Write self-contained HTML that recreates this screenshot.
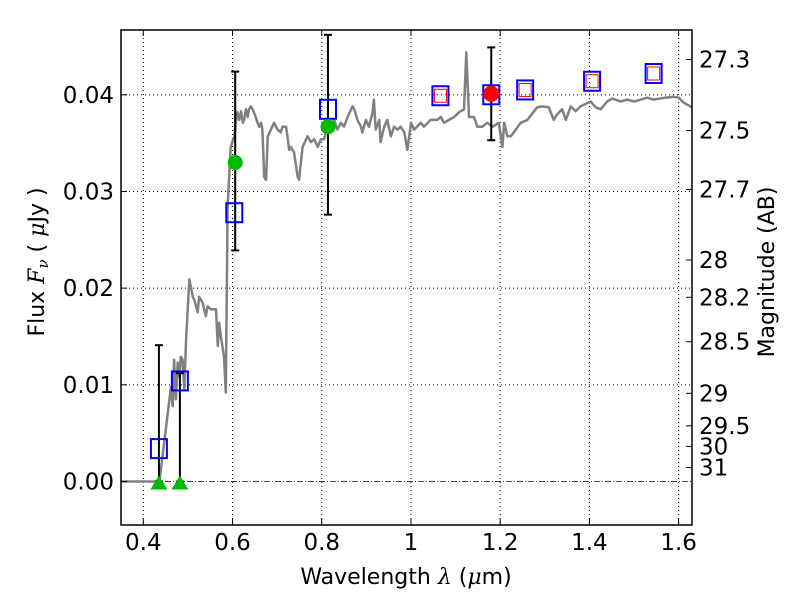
<!DOCTYPE html>
<html><head><meta charset="utf-8"><style>
body{margin:0;background:#fff;}
svg text{font-family:"DejaVu Sans","Liberation Sans",sans-serif;}
</style></head><body>
<svg id="chart" width="800" height="600" xmlns="http://www.w3.org/2000/svg"></svg>
<script>
const specWl=[0.352,0.436,0.455,0.462,0.466,0.469,0.473,0.477,0.481,0.484,0.488,0.492,0.496,0.503,0.511,0.514,0.522,0.525,0.533,0.540,0.544,0.552,0.563,0.567,0.570,0.574,0.581,0.585,0.589,0.596,0.604,0.608,0.611,0.615,0.619,0.623,0.626,0.630,0.634,0.637,0.641,0.645,0.652,0.656,0.660,0.664,0.667,0.671,0.675,0.679,0.686,0.693,0.701,0.708,0.712,0.720,0.723,0.727,0.731,0.738,0.746,0.749,0.757,0.768,0.776,0.783,0.791,0.798,0.805,0.813,0.820,0.828,0.835,0.843,0.850,0.858,0.869,0.873,0.880,0.888,0.891,0.899,0.906,0.914,0.917,0.921,0.929,0.932,0.940,0.947,0.955,0.962,0.970,0.977,0.985,0.992,1.000,1.007,1.022,1.029,1.044,1.059,1.067,1.074,1.085,1.097,1.108,1.119,1.124,1.130,1.141,1.149,1.160,1.171,1.183,1.197,1.205,1.209,1.216,1.224,1.235,1.246,1.261,1.276,1.283,1.294,1.309,1.320,1.328,1.339,1.347,1.358,1.369,1.380,1.403,1.414,1.425,1.440,1.451,1.470,1.485,1.500,1.515,1.530,1.544,1.570,1.589,1.600,1.611,1.630];
const specFlux=[0,0,0.0071,0.0098,0.0078,0.0126,0.0085,0.0123,0.0109,0.0129,0.0126,0.0095,0.0147,0.0209,0.0191,0.0188,0.0175,0.0191,0.0185,0.0171,0.0181,0.0178,0.0178,0.0140,0.0164,0.0150,0.0129,0.0092,0.0284,0.0346,0.0357,0.0374,0.0382,0.0374,0.0383,0.0371,0.0374,0.0385,0.0377,0.0385,0.0388,0.0385,0.0377,0.0371,0.0367,0.0371,0.0364,0.0315,0.0312,0.0357,0.0364,0.0371,0.0364,0.0361,0.0367,0.0367,0.0357,0.0343,0.0346,0.0340,0.0315,0.0312,0.0346,0.0357,0.0351,0.0354,0.0346,0.0354,0.0354,0.0367,0.0361,0.0374,0.0364,0.0371,0.0367,0.0377,0.0388,0.0385,0.0374,0.0367,0.0361,0.0374,0.0367,0.0382,0.0395,0.0364,0.0374,0.0351,0.0367,0.0374,0.0357,0.0367,0.0364,0.0367,0.0361,0.0343,0.0371,0.0364,0.0371,0.0367,0.0374,0.0374,0.0377,0.0371,0.0374,0.0377,0.0382,0.0385,0.0444,0.0377,0.0377,0.0367,0.0367,0.0371,0.0367,0.0371,0.0346,0.0371,0.0357,0.0357,0.0364,0.0371,0.0374,0.0383,0.0387,0.0388,0.0387,0.0374,0.0380,0.0385,0.0374,0.0388,0.0383,0.0388,0.0393,0.0387,0.0385,0.0393,0.0396,0.0393,0.0395,0.0393,0.0395,0.0397,0.0395,0.0397,0.0398,0.0397,0.0392,0.0387];
const modelWl=[0.435,0.482,0.604,0.814,1.066,1.180,1.256,1.406,1.544];
const modelFlux=[0.0034,0.0104,0.0278,0.0385,0.0399,0.0400,0.0405,0.0414,0.0422];
const redBoxWl=[1.066,1.256,1.406,1.544];
const redBoxFlux=[0.0399,0.0405,0.0414,0.0422];
const detWl=[0.606,0.814];
const detFlux=[0.0330,0.0367];
const redDetWl=[1.18];
const redDetFlux=[0.0401];
const errWl=[0.435,0.482,0.606,0.814,1.18];
const errLo=[0,0,0.0239,0.0276,0.0353];
const errHi=[0.0141,0.0112,0.0424,0.0462,0.0449];
const limWl=[0.435,0.482];
const limFlux=[0,0];
const xTicks=[0.4,0.6,0.8,1.0,1.2,1.4,1.6];
const xTickLabels=["0.4","0.6","0.8","1","1.2","1.4","1.6"];
const yTicks=[0,0.01,0.02,0.03,0.04];
const yTickLabels=["0.00","0.01","0.02","0.03","0.04"];
const magTicks=[27.3,27.5,27.7,28,28.2,28.5,29,29.5,30,31];
const magTickLabels=["27.3","27.5","27.7","28","28.2","28.5","29","29.5","30","31"];

const L=121,R=692,T=30,B=525;
const xMin=0.35,xMax=1.63,yMin=-0.0045,yMax=0.0467;
const X=v=>L+(v-xMin)/(xMax-xMin)*(R-L);
const Y=v=>B-(v-yMin)/(yMax-yMin)*(B-T);
const svg=document.getElementById('chart');
const NS='http://www.w3.org/2000/svg';
function mk(tag,attrs,parent){const e=document.createElementNS(NS,tag);for(const k in attrs)e.setAttribute(k,attrs[k]);(parent||svg).appendChild(e);return e;}

xTicks.forEach((t,i)=>{
  const g=mk('line',{x1:X(t),x2:X(t),y1:T,y2:B,stroke:'#000','stroke-width':1,'stroke-dasharray':'1,3'});
  
  
});
yTicks.forEach((t,i)=>{
  if(t===0)return;
  const g=mk('line',{x1:L,x2:R,y1:Y(t),y2:Y(t),stroke:'#000','stroke-width':1,'stroke-dasharray':'1,3'});
  
  
});
const zl=mk('line',{x1:L,x2:R,y1:Y(0),y2:Y(0),stroke:'#000','stroke-width':0.8,'stroke-dasharray':'6,2,1,2'});



let d='';
specWl.forEach((w,i)=>{d+=(i?'L':'M')+X(w).toFixed(1)+','+Y(specFlux[i]).toFixed(1);});
const sp=mk('path',{d:d,fill:'none',stroke:'#808080','stroke-width':2.5,'stroke-linejoin':'round'});



errWl.forEach((w,i)=>{
  const g=mk('g',{stroke:'#000','stroke-width':2});
  
  
  const x=X(w);
  mk('line',{x1:x,x2:x,y1:Y(errLo[i]),y2:Y(errHi[i])},g);
  mk('line',{x1:x-4,x2:x+4,y1:Y(errLo[i]),y2:Y(errLo[i])},g);
  mk('line',{x1:x-4,x2:x+4,y1:Y(errHi[i]),y2:Y(errHi[i])},g);
});

modelWl.forEach((w,i)=>{
  const r=mk('rect',{x:X(w)-8,y:Y(modelFlux[i])-9.5,width:16,height:19,fill:'none',stroke:'#0000ff','stroke-width':2});
  
  
});
redBoxWl.forEach((w,i)=>{
  const r=mk('rect',{x:X(w)-6,y:Y(redBoxFlux[i])-6.5,width:12,height:13,fill:'none',stroke:'#ff0000','stroke-width':1});
  
  
});
detWl.forEach((w,i)=>{
  const c=mk('circle',{cx:X(w),cy:Y(detFlux[i]),r:7.5,fill:'#00bb00'});
  
  
});
redDetWl.forEach((w,i)=>{
  const c=mk('circle',{cx:X(w),cy:Y(redDetFlux[i]),r:8,fill:'#ff0000'});
  
  
});
limWl.forEach((w,i)=>{
  const x=X(w),y=Y(limFlux[i]);
  const p=mk('polygon',{points:`${x},${y-6} ${x-8.5},${y+8} ${x+8.5},${y+8}`,fill:'#00bb00'});
  
  
});

const fr=mk('rect',{x:L,y:T,width:R-L,height:B-T,fill:'none',stroke:'#000','stroke-width':1.5});



xTicks.forEach((t,i)=>{
  const x=X(t);
  mk('line',{x1:x,x2:x,y1:B,y2:B-6,stroke:'#000','stroke-width':1});
  mk('line',{x1:x,x2:x,y1:T,y2:T+6,stroke:'#000','stroke-width':1});
  const tx=mk('text',{x:x,y:B+25,'font-size':23,'text-anchor':'middle'});
  tx.textContent=xTickLabels[i];
  
  
});
yTicks.forEach((t,i)=>{
  const y=Y(t);
  mk('line',{x1:L,x2:L+6,y1:y,y2:y,stroke:'#000','stroke-width':1});
  const tx=mk('text',{x:L-7,y:y+8,'font-size':23,'text-anchor':'end'});
  tx.textContent=yTickLabels[i];
  
  
});
magTicks.forEach((m,i)=>{
  const f=Math.pow(10,(23.9-m)/2.5);
  const y=Y(f);
  mk('line',{x1:R-6,x2:R,y1:y,y2:y,stroke:'#000','stroke-width':1});
  const tx=mk('text',{x:R+7,y:y+8,'font-size':23,'text-anchor':'start'});
  tx.textContent=magTickLabels[i];
  
  
});

const xt=mk('text',{x:406,y:584,'font-size':22,'text-anchor':'middle'});


xt.innerHTML='Wavelength  <tspan font-style="italic" font-family="DejaVu Serif,serif">λ</tspan> (<tspan font-style="italic" font-family="DejaVu Serif,serif">μ</tspan>m)';
const yt=mk('text',{x:0,y:0,'font-size':22,'text-anchor':'middle',transform:'translate(44,262) rotate(-90)'});


yt.innerHTML='Flux  <tspan font-style="italic" font-family="DejaVu Serif,serif">F</tspan><tspan font-style="italic" font-family="DejaVu Serif,serif" font-size="15" dy="4">ν</tspan><tspan dy="-4">  (  </tspan><tspan font-style="italic" font-family="DejaVu Serif,serif">μ</tspan>Jy )';
const rt=mk('text',{x:0,y:0,'font-size':22,'text-anchor':'middle',transform:'translate(774,272) rotate(-90)'});


rt.textContent='Magnitude (AB)';
</script>
</body></html>
